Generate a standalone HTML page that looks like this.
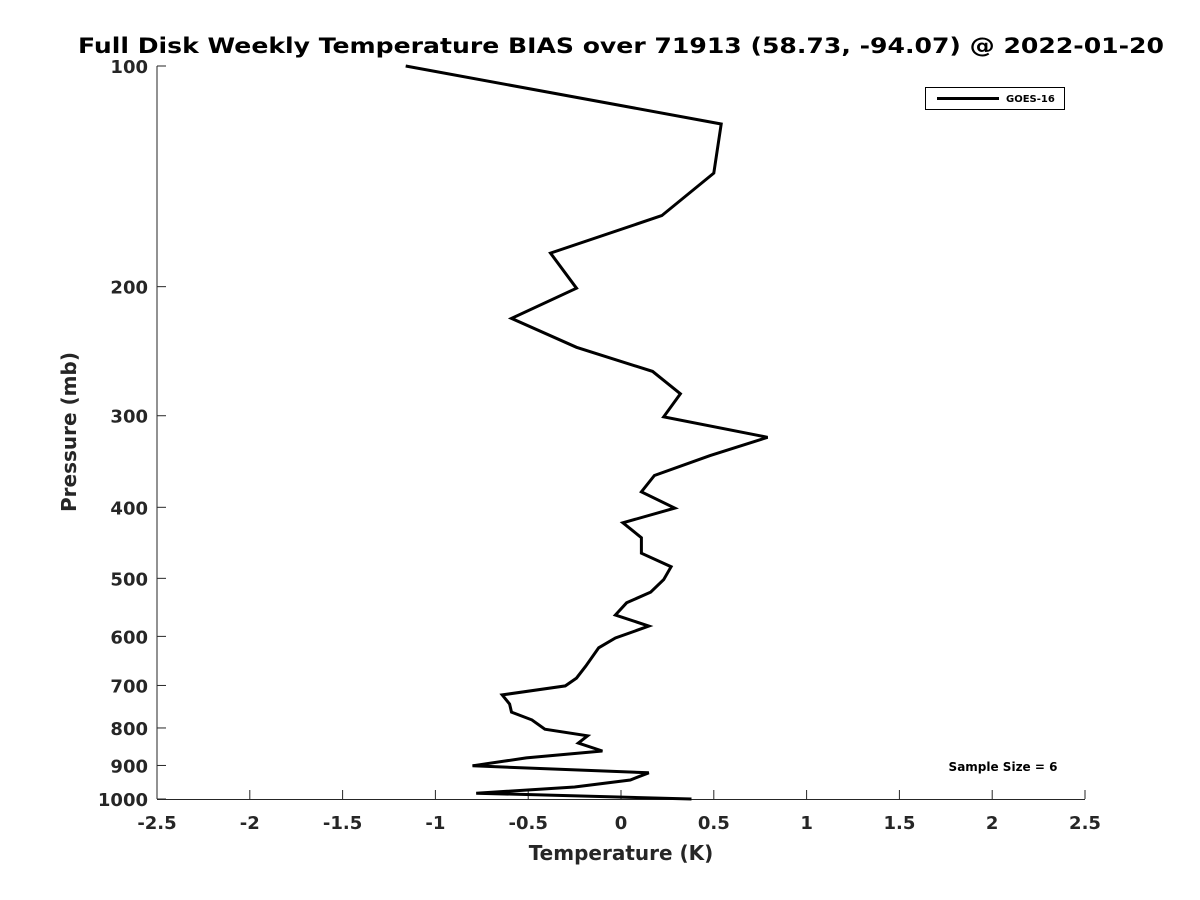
<!DOCTYPE html>
<html><head><meta charset="utf-8"><style>
html,body{margin:0;padding:0;background:#fff;}
svg{display:block;font-family:"DejaVu Sans","Liberation Sans",sans-serif;}
</style></head><body>
<svg id="chart" width="1200" height="900" viewBox="0 0 1200 900">
<rect x="0" y="0" width="1200" height="900" fill="#fff"/>
<text x="78" y="53" font-size="21" font-weight="bold" fill="#000" textLength="1086" lengthAdjust="spacingAndGlyphs">Full Disk Weekly Temperature BIAS over 71913 (58.73, -94.07) @ 2022-01-20</text>
<g id="axes"></g>
<g id="series"></g>
<text x="621" y="860" text-anchor="middle" font-size="20" font-weight="bold" fill="#262626">Temperature (K)</text>
<text transform="translate(76,432) rotate(-90)" text-anchor="middle" font-size="20" font-weight="bold" fill="#262626">Pressure (mb)</text>
<g>
<rect x="925.5" y="87.5" width="139" height="22" fill="#fff" stroke="#000" stroke-width="1"/>
<line x1="937" y1="98.5" x2="999" y2="98.5" stroke="#000" stroke-width="3"/>
<text x="1006" y="102" font-size="10" font-weight="bold" fill="#000">GOES-16</text>
</g>
<text x="1003" y="771" text-anchor="middle" font-size="12" font-weight="bold" fill="#000">Sample Size = 6</text>
</svg>
<script>
const xTicks=[-2.5,-2,-1.5,-1,-0.5,0,0.5,1,1.5,2,2.5];
const xTickLabels=["-2.5","-2","-1.5","-1","-0.5","0","0.5","1","1.5","2","2.5"];
const yTicks=[100,200,300,400,500,600,700,800,900,1000];
const yTickLabels=["100","200","300","400","500","600","700","800","900","1000"];
const temps=[-1.16,0.54,0.50,0.22,-0.38,-0.24,-0.59,-0.24,0.17,0.32,0.23,0.79,0.48,0.18,0.11,0.29,0.01,0.11,0.11,0.27,0.23,0.16,0.03,-0.03,0.15,-0.03,-0.12,-0.19,-0.24,-0.30,-0.64,-0.60,-0.59,-0.48,-0.41,-0.18,-0.23,-0.10,-0.51,-0.80,0.15,0.05,-0.25,-0.78,0.38];
const pressures=[100,120,140,160,180,201,221,242,261,280,301,321,340,362,381,401,420,440,462,482,502,522,540,561,581,603,622,659,684,701,721,742,761,780,803,820,839,860,879,901,921,942,963,982,1000];
const NS="http://www.w3.org/2000/svg";
const X0=157,X1=1085,Y0=66,Y1=799;
function xs(v){return X0+(v+2.5)/5*(X1-X0);}
function ys(p){return Y0+Math.log10(p/100)*(Y1-Y0);}
const axes=document.getElementById('axes');
function mk(tag,attrs,parent){const e=document.createElementNS(NS,tag);for(const k in attrs)e.setAttribute(k,attrs[k]);parent.appendChild(e);return e;}
const yl=mk('line',{x1:X0,y1:Y0,x2:X0,y2:Y1,stroke:'#262626','stroke-width':1},axes);


const xl=mk('line',{x1:X0,y1:Y1+0.5,x2:X1,y2:Y1+0.5,stroke:'#262626','stroke-width':1},axes);


xTicks.forEach((t,i)=>{
 const x=xs(t);
 const tk=mk('line',{x1:x,y1:Y1,x2:x,y2:Y1-9,stroke:'#262626','stroke-width':1},axes);
 
 
 const tx=mk('text',{x:x,y:829,'text-anchor':'middle','font-size':18,'font-weight':'bold',fill:'#262626'},axes);
 tx.textContent=xTickLabels[i];
 
 
});
yTicks.forEach((t,i)=>{
 const y=ys(t);
 const tk=mk('line',{x1:X0,y1:y,x2:X0+9,y2:y,stroke:'#262626','stroke-width':1},axes);
 
 
 const tx=mk('text',{x:148,y:y+7,'text-anchor':'end','font-size':18,'font-weight':'bold',fill:'#262626'},axes);
 tx.textContent=yTickLabels[i];
 
 
});
const pts=temps.map((t,i)=>xs(t).toFixed(1)+','+ys(pressures[i]).toFixed(1)).join(' ');
const pl=mk('polyline',{points:pts,fill:'none',stroke:'#000','stroke-width':3,'stroke-linejoin':'miter'},document.getElementById('series'));


</script>
</body></html>
